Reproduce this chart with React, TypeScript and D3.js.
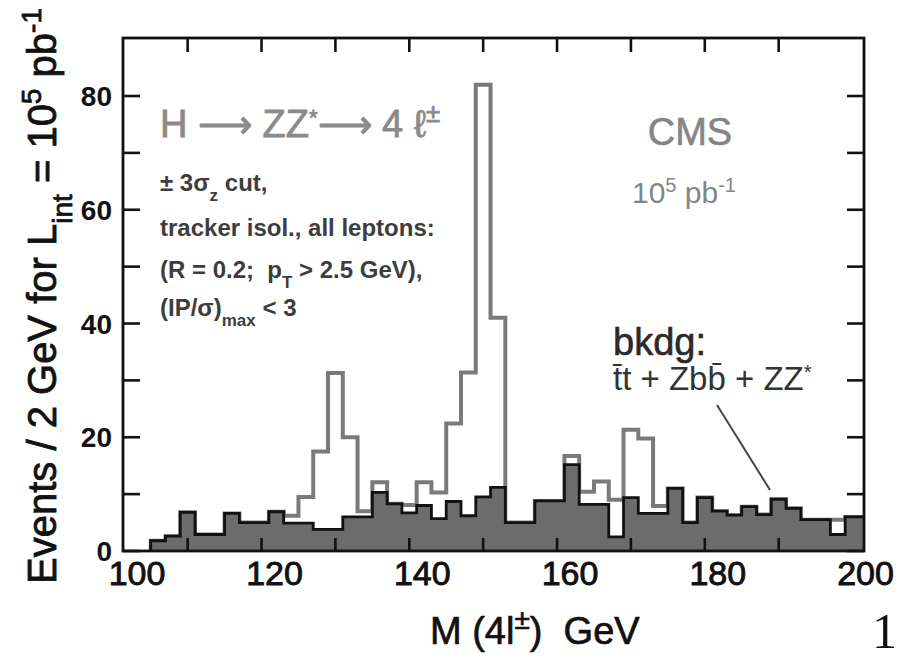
import React from 'react';
import * as d3 from 'd3';

// 2-GeV bins (centres, GeV)
const binCenters = [
  106, 108, 110, 112, 114, 116, 118, 120, 122, 124, 126, 128, 130, 132, 134, 136,
  138, 140, 142, 144, 146, 148, 150, 152, 154, 156, 158, 160, 162, 164, 166, 168,
  170, 172, 174, 176, 178, 180, 182, 184, 186, 188, 190, 192, 194, 196, 198, 200,
];
// background: tt + Zbb + ZZ*
const background = [
  1.8, 2.6, 6.8, 2.9, 2.9, 6.6, 5.0, 5.0, 6.9, 4.9, 4.9, 3.8, 3.8, 6.0, 6.0, 10.3,
  8.3, 6.7, 8.0, 5.7, 8.7, 6.2, 9.5, 11.2, 5.0, 5.0, 8.8, 8.8, 15.2, 8.2, 8.2, 2.5,
  9.4, 6.6, 6.6, 11.0, 5.0, 9.4, 7.0, 6.3, 7.8, 6.4, 9.1, 7.5, 5.5, 5.5, 2.9, 6.0,
];
// signal + background
const signalPlusBackground = [
  1.8, 2.6, 6.8, 2.9, 2.9, 6.6, 5.0, 5.0, 6.9, 6.2, 9.5, 17.5, 31.3, 20.0, 7.0, 12.1,
  8.3, 8.1, 12.1, 10.3, 22.4, 31.4, 82.0, 41.0, 5.0, 5.0, 8.8, 8.8, 16.7, 10.4, 12.2, 9.0,
  21.3, 19.8, 7.9, 11.0, 5.0, 9.4, 7.0, 6.3, 7.8, 6.4, 9.1, 7.5, 5.5, 5.5, 5.5, 6.0,
];
const yTickValues = [0, 10, 20, 30, 40, 50, 60, 70, 80];
const yLabelValues = [0, 20, 40, 60, 80];
const xTickValues = [110, 120, 130, 140, 150, 160, 170, 180, 190];
const xLabelValues = [100, 120, 140, 160, 180, 200];

const xDomain: [number, number] = [101.25, 201.55];
const yDomain: [number, number] = [0, 90.2];

const SANS = "'Liberation Sans', Arial, Helvetica, sans-serif";

export default function App() {
  const W = 900, H = 661;
  const frame = { left: 123, right: 864, top: 38, bottom: 551 };
  const x = d3.scaleLinear().domain(xDomain).range([frame.left, frame.right]);
  const y = d3.scaleLinear().domain(yDomain).range([frame.bottom, frame.top]);
  const binW = binCenters[1] - binCenters[0];

  const stepPoints = (vals: number[]) => {
    const pts: [number, number][] = [[binCenters[0] - binW / 2, 0]];
    binCenters.forEach((c, i) => pts.push([c - binW / 2, vals[i]]));
    pts.push([xDomain[1], vals[vals.length - 1]]);
    return pts;
  };
  const area = d3.area<[number, number]>()
    .x((d) => x(d[0])).y0(y(0)).y1((d) => y(d[1])).curve(d3.curveStepAfter);
  const line = d3.line<[number, number]>()
    .x((d) => x(d[0])).y((d) => y(d[1])).curve(d3.curveStepAfter);

  const bkgPts = stepPoints(background);
  const totPts = stepPoints(signalPlusBackground);

  const labelX = (v: number) => Math.max(x(v) + 13, frame.left + 14);
  const pre = { whiteSpace: 'pre' as const };

  return (
    <svg width={W} height={H} style={{ position: 'absolute', left: 0, top: 0, background: '#fff' }}
      fontFamily={SANS}>
      {/* total (signal + background) outline */}
      <path d={line(totPts) || ''} fill="none" stroke="#7a7a7a" strokeWidth={4} />
      {/* background filled */}
      <path d={area(bkgPts) || ''} fill="#6c6c6c" stroke="none" />
      <path d={line(bkgPts) || ''} fill="none" stroke="#111" strokeWidth={2.8} />

      {/* frame */}
      <rect x={frame.left} y={frame.top} width={frame.right - frame.left} height={frame.bottom - frame.top}
        fill="none" stroke="#111" strokeWidth={2.8} />
      {yTickValues.map((v) => (
        <g key={'yt' + v}>
          <line x1={frame.left} x2={frame.left + 17} y1={y(v)} y2={y(v)} stroke="#111" strokeWidth={2.6} />
          <line x1={frame.right} x2={frame.right - 17} y1={y(v)} y2={y(v)} stroke="#111" strokeWidth={2.6} />
        </g>
      ))}
      {xTickValues.map((v) => (
        <g key={'xt' + v}>
          <line x1={x(v)} x2={x(v)} y1={frame.bottom} y2={frame.bottom - 13} stroke="#111" strokeWidth={2.6} />
          <line x1={x(v)} x2={x(v)} y1={frame.top} y2={frame.top + 14} stroke="#111" strokeWidth={2.6} />
        </g>
      ))}
      {yLabelValues.map((v) => (
        <text key={'yl' + v} x={112} y={y(v)} dy="0.36em" textAnchor="end" fontSize={28}
          fontWeight="bold" fill="#111">{v}</text>
      ))}
      {xLabelValues.map((v) => (
        <text key={'xl' + v} x={labelX(v)} y={585} textAnchor="middle" fontSize={34}
          fill="#111" stroke="#111" strokeWidth={0.9}>{v}</text>
      ))}

      {/* axis titles */}
      <text transform="translate(56,296) rotate(-90)" textAnchor="middle" fontSize={40} fill="#111"
        stroke="#111" strokeWidth={0.8}>
        Events / 2 GeV for L<tspan baselineShift="sub" fontSize={28}>int</tspan>
        <tspan> = 10</tspan><tspan baselineShift="super" fontSize={28}>5</tspan>
        <tspan> pb</tspan><tspan baselineShift="super" fontSize={28}>-1</tspan>
      </text>
      <text x={430} y={644} fontSize={38} fill="#111" stroke="#111" strokeWidth={0.7} style={pre}>
        M (4l<tspan baselineShift="super" fontSize={28}>±</tspan><tspan>)  GeV</tspan>
      </text>
      <text x={897} y={648} textAnchor="end" fontSize={50} fill="#111"
        fontFamily="'Liberation Serif', 'Times New Roman', serif">1</text>

      {/* process label */}
      <text x={160} y={137} fontSize={38} fill="#8a8a8a" stroke="#8a8a8a" strokeWidth={0.8}>
        H ⟶ ZZ<tspan baselineShift="super" fontSize={22}>*</tspan><tspan>⟶ 4 ℓ</tspan>
        <tspan baselineShift="super" fontSize={26}>±</tspan>
      </text>
      <g fontSize={24} fontWeight="bold" fill="#3d3d3d">
        <text x={160} y={191} style={pre}>± 3σ<tspan baselineShift="sub" fontSize={17}>z</tspan><tspan> cut,</tspan></text>
        <text x={160} y={236} style={pre}>tracker isol., all leptons:</text>
        <text x={160} y={278} style={pre}>(R = 0.2;  p<tspan baselineShift="sub" fontSize={17}>T</tspan><tspan> &gt; 2.5 GeV),</tspan></text>
        <text x={160} y={316} style={pre}>(IP/σ)<tspan baselineShift="sub" fontSize={17}>max</tspan><tspan> &lt; 3</tspan></text>
      </g>

      <text x={690} y={145} textAnchor="middle" fontSize={38} fill="#858585" stroke="#858585" strokeWidth={0.6}>CMS</text>
      <text x={684} y={203} textAnchor="middle" fontSize={30} fill="#858585" style={pre}>
        10<tspan baselineShift="super" fontSize={20}>5</tspan><tspan> pb</tspan>
        <tspan baselineShift="super" fontSize={20}>-1</tspan>
      </text>

      <text x={613} y={355} fontSize={38} fill="#2a2a2a" stroke="#2a2a2a" strokeWidth={0.6}>bkdg:</text>
      <text x={613} y={390} fontSize={33} fill="#333">t̄t + Zbb̄ + ZZ<tspan baselineShift="super" fontSize={20}>*</tspan></text>
      <line x1={717} y1={405} x2={770} y2={490} stroke="#444" strokeWidth={2} />
    </svg>
  );
}
